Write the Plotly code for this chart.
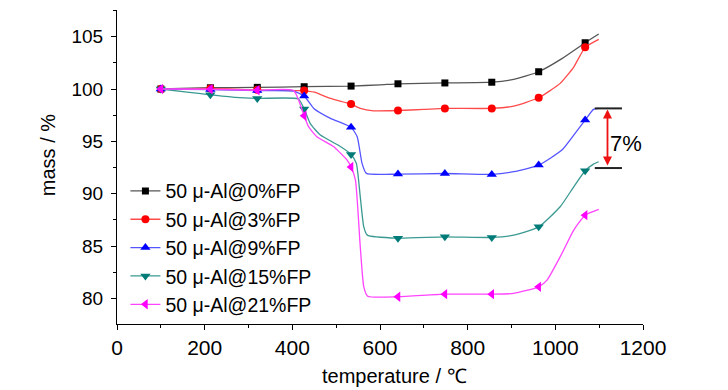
import plotly.graph_objects as go

# ---------------- data ----------------
series_names = ["50 μ-Al@0%FP", "50 μ-Al@3%FP", "50 μ-Al@9%FP", "50 μ-Al@15%FP", "50 μ-Al@21%FP"]

marker_T = [100, 213, 320, 427, 534, 641, 748, 855, 962, 1068]

m0 = [100.0, 100.12, 100.16, 100.22, 100.28, 100.5, 100.58, 100.65, 101.65, 104.42]
m3 = [100.0, 100.06, 99.92, 99.85, 98.56, 97.95, 98.15, 98.15, 99.17, 103.98]
m9 = [100.0, 99.95, 99.85, 99.33, 96.34, 91.87, 91.93, 91.84, 92.73, 97.03]
m15 = [100.0, 99.45, 99.1, 98.1, 93.75, 85.75, 85.88, 85.82, 86.83, 92.19]
m21 = [100.0, 99.98, 99.88, 97.45, 92.55, 80.15, 80.4, 80.4, 81.1, 87.95]

# continuous curves
t0 = [100, 213, 320, 427, 534, 600, 641, 748, 855, 905, 962, 1015, 1068, 1099]
v0 = [100.0, 100.12, 100.16, 100.22, 100.28, 100.4, 100.5, 100.58, 100.65, 100.92, 101.65, 102.9, 104.42, 105.25]

t3 = [100, 213, 320, 420, 450, 487, 534, 555, 585, 641, 700, 748, 855, 905, 962, 1011, 1042, 1068, 1099]
v3 = [100.0, 100.06, 99.92, 99.85, 99.7, 99.1, 98.56, 98.15, 97.92, 97.95, 98.05, 98.15, 98.15, 98.37, 99.17, 100.54, 102.1, 103.98, 104.75]

t9 = [100, 213, 320, 403, 427, 449, 487, 534, 548, 559, 569, 641, 748, 855, 905, 962, 1015, 1042, 1068, 1087, 1099]
v9 = [100.0, 99.95, 99.85, 99.8, 99.33, 98.15, 97.2, 96.34, 95.44, 92.9, 91.94, 91.87, 91.93, 91.84, 92.1, 92.73, 94.17, 95.6, 97.03, 98.06, 98.15]

t15 = [100, 160, 213, 270, 320, 414, 427, 441, 464, 506, 534, 546, 555, 563, 571, 641, 748, 855, 905, 962, 1011, 1042, 1068, 1087, 1099]
v15 = [100.0, 99.7, 99.45, 99.2, 99.1, 99.05, 98.1, 96.7, 95.6, 94.6, 93.75, 92.9, 89.7, 86.83, 86.04, 85.75, 85.88, 85.82, 86.04, 86.83, 88.75, 90.66, 92.19, 92.83, 93.05]

t21 = [100, 213, 320, 403, 427, 437, 456, 494, 525, 534, 544, 555, 563, 572, 641, 748, 855, 905, 962, 981, 1015, 1042, 1068, 1099]
v21 = [100.0, 99.98, 99.88, 99.85, 97.45, 96.4, 95.44, 94.5, 93.2, 92.55, 91.3, 84.9, 81.1, 80.2, 80.15, 80.4, 80.4, 80.47, 81.1, 81.74, 84.29, 86.52, 87.95, 88.5]

x_ticks = [0, 200, 400, 600, 800, 1000, 1200]
y_ticks = [80, 85, 90, 95, 100, 105]

# 7% bracket
bracket_levels = [98.15, 92.45]
bracket_T = [1090, 1152]
arrow_T = 1119
bracket_label = "7%"
label_T = 1162
label_V = 94.8

# ---------------- styling ----------------
marker_colors = ["#000000", "#ff0000", "#0000ff", "#007b78", "#ff00ff"]
line_colors = ["#555555", "#ff4a4a", "#5555ff", "#3a9a92", "#ff44ff"]
symbols = ["square", "circle", "triangle-up", "triangle-down", "triangle-left"]
sizes = [7, 8, 9, 9, 9]

curves_T = [t0, t3, t9, t15, t21]
curves_V = [v0, v3, v9, v15, v21]
markers_V = [m0, m3, m9, m15, m21]

FONT = "Liberation Sans, Arial, sans-serif"

fig = go.Figure()

# legend entries
for i, name in enumerate(series_names):
    fig.add_trace(go.Scatter(
        x=[None], y=[None], name=name, mode="lines+markers",
        line=dict(color=line_colors[i], width=1.3),
        marker=dict(symbol=symbols[i], color=marker_colors[i], size=sizes[i]),
        showlegend=True,
    ))

for i in range(5):
    fig.add_trace(go.Scatter(
        x=curves_T[i], y=curves_V[i], mode="lines",
        line=dict(color=line_colors[i], width=1.3, shape="spline", smoothing=0.5),
        showlegend=False, hoverinfo="skip",
    ))
    fig.add_trace(go.Scatter(
        x=marker_T, y=markers_V[i], mode="markers",
        marker=dict(symbol=symbols[i], color=marker_colors[i], size=sizes[i]),
        showlegend=False,
    ))

# bracket lines
for lvl in bracket_levels:
    fig.add_shape(type="line", xref="x", yref="y",
                  x0=bracket_T[0], x1=bracket_T[1], y0=lvl, y1=lvl,
                  line=dict(color="#222222", width=2))

fig.add_annotation(x=arrow_T, y=bracket_levels[0], ax=arrow_T, ay=bracket_levels[1],
                   xref="x", yref="y", axref="x", ayref="y", text="",
                   showarrow=True, arrowside="end+start", arrowhead=2, arrowsize=1,
                   arrowwidth=1.8, arrowcolor="#ee1111", standoff=1, startstandoff=1)
fig.add_annotation(x=label_T, y=label_V, xref="x", yref="y", text=bracket_label,
                   showarrow=False, font=dict(family=FONT, size=22, color="black"))

# axis titles
fig.add_annotation(x=0.5285, y=-0.166, xref="paper", yref="paper", text="temperature / ℃",
                   showarrow=False, font=dict(family=FONT, size=20, color="black"),
                   xanchor="center", yanchor="middle")
fig.add_annotation(x=-0.131, y=0.538, xref="paper", yref="paper", text="mass / %",
                   showarrow=False, textangle=-90, font=dict(family=FONT, size=20, color="black"),
                   xanchor="center", yanchor="middle")

# the page body adds an 8px offset, so the figure is 8px smaller and shifted accordingly
fig.update_layout(
    width=720, height=382,
    margin=dict(l=109, r=85, t=2, b=66),
    paper_bgcolor="white", plot_bgcolor="white",
    font=dict(family=FONT, color="black"),
    legend=dict(x=0.016, y=0.485, xanchor="left", yanchor="top",
                bgcolor="rgba(0,0,0,0)", font=dict(family=FONT, size=19.5),
                tracegroupgap=0, itemwidth=30),
    xaxis=dict(range=[0, 1200], tickvals=x_ticks, showline=True, linecolor="black", linewidth=1,
               ticks="outside", ticklen=5, tickcolor="black", showgrid=False, zeroline=False,
               tickfont=dict(family=FONT, size=21),
               minor=dict(dtick=100, tick0=0, ticks="outside", ticklen=3, tickcolor="black")),
    yaxis=dict(range=[77.55, 107.55], tickvals=y_ticks, showline=True, linecolor="black", linewidth=1,
               ticks="outside", ticklen=5, tickcolor="black", showgrid=False, zeroline=False,
               tickfont=dict(family=FONT, size=19), ticklabelstandoff=4,
               minor=dict(dtick=2.5, tick0=0, ticks="outside", ticklen=3, tickcolor="black")),
)

fig.write_html("out.html")
